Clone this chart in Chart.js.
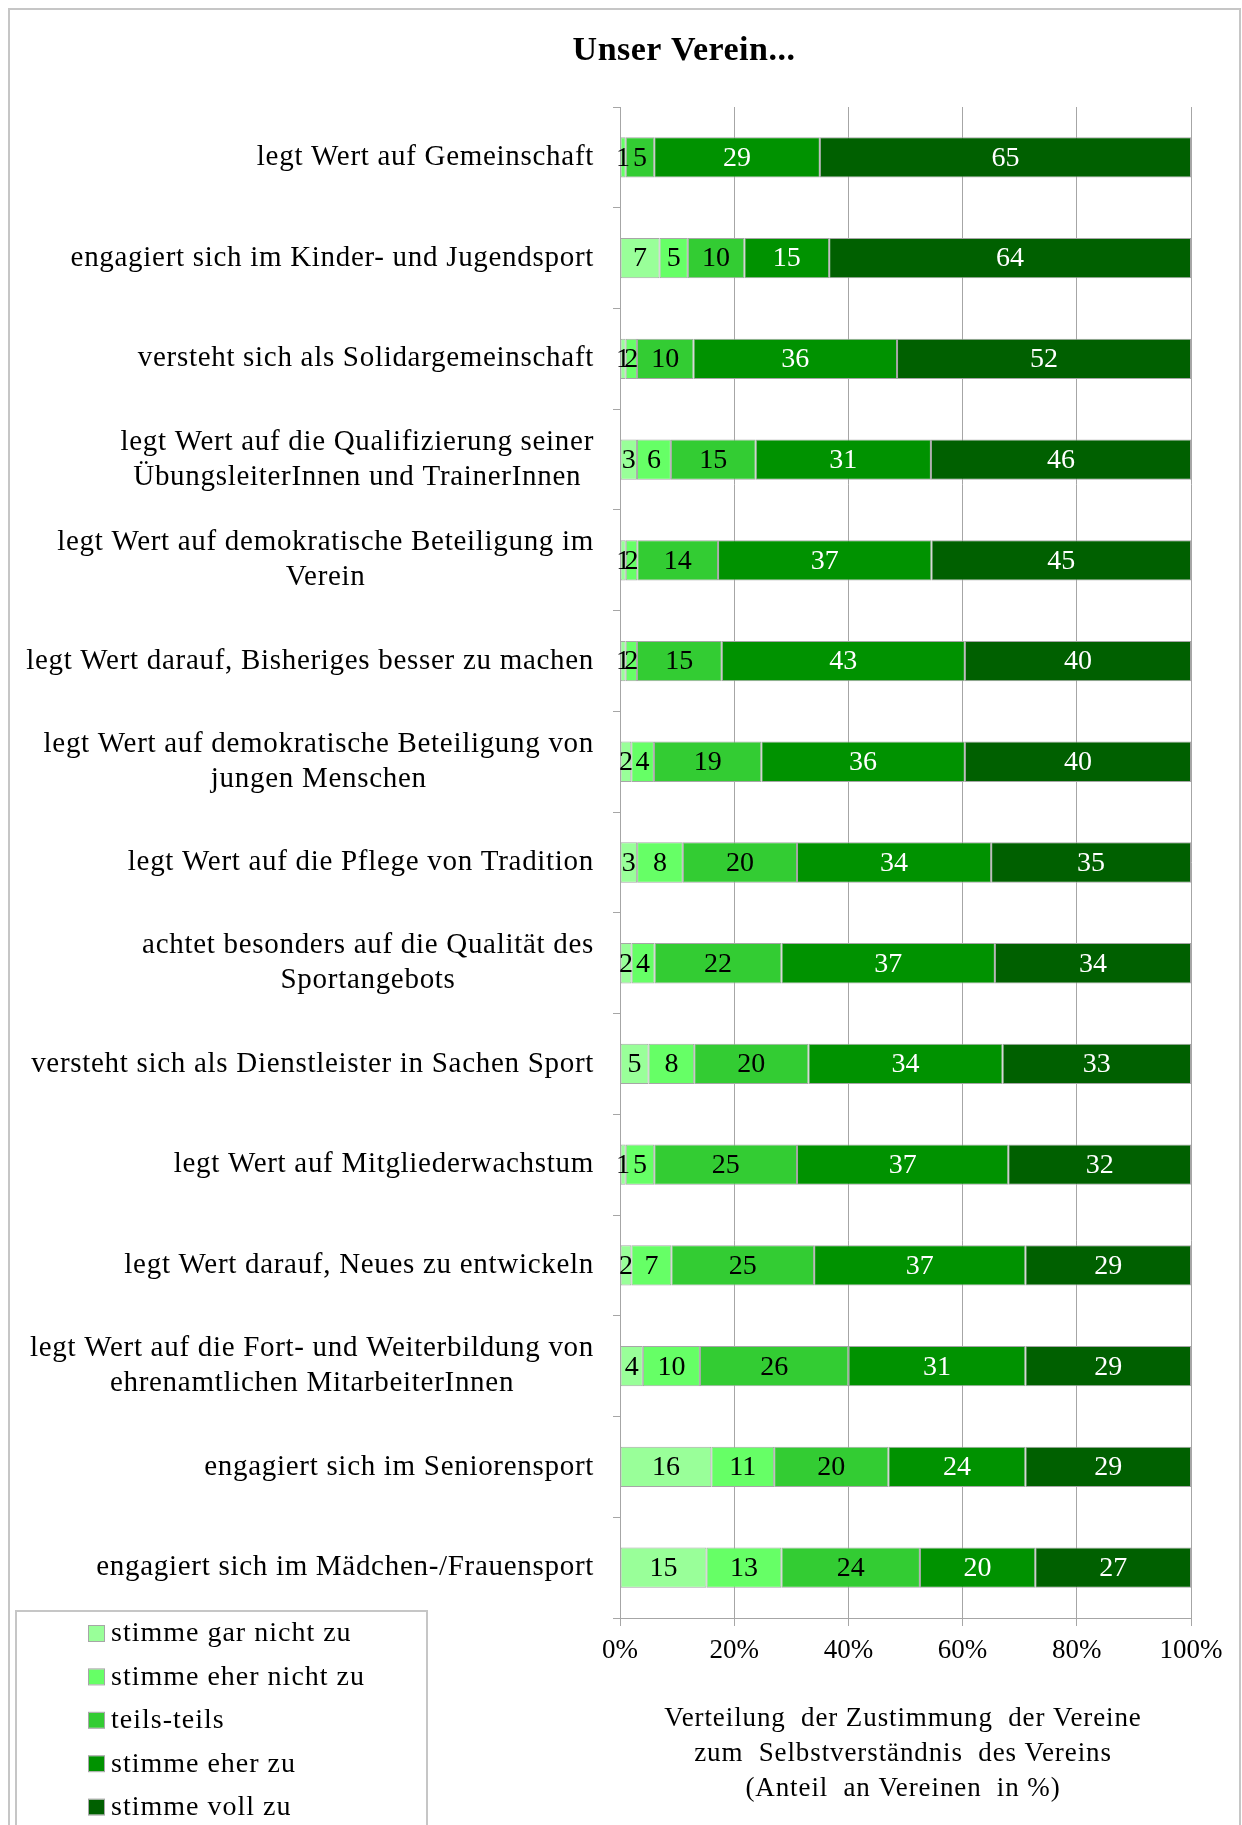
<!DOCTYPE html>
<html lang="de">
<head>
<meta charset="utf-8">
<title>Unser Verein...</title>
<script src="https://cdn.jsdelivr.net/npm/chart.js@4.4.1/dist/chart.umd.min.js"></script>
<style>
  html, body { margin: 0; padding: 0; background: #fff; }
  #wrap { position: relative; width: 1242px; height: 1825px; }
</style>
</head>
<body>
<div id="wrap"><canvas id="chart"></canvas></div>
<script>
// ═══════════════════════════════════════
// DATA
// ═══════════════════════════════════════
const categories = [
  ['legt Wert auf Gemeinschaft'],
  ['engagiert sich im Kinder- und Jugendsport'],
  ['versteht sich als Solidargemeinschaft'],
  ['legt Wert auf die Qualifizierung seiner', 'ÜbungsleiterInnen und TrainerInnen'],
  ['legt Wert auf demokratische Beteiligung im', 'Verein'],
  ['legt Wert darauf, Bisheriges besser zu machen'],
  ['legt Wert auf demokratische Beteiligung von', 'jungen Menschen'],
  ['legt Wert auf die Pflege von Tradition'],
  ['achtet besonders auf die Qualität des', 'Sportangebots'],
  ['versteht sich als Dienstleister in Sachen Sport'],
  ['legt Wert auf Mitgliederwachstum'],
  ['legt Wert darauf, Neues zu entwickeln'],
  ['legt Wert auf die Fort- und Weiterbildung von', 'ehrenamtlichen MitarbeiterInnen'],
  ['engagiert sich im Seniorensport'],
  ['engagiert sich im Mädchen-/Frauensport']
];

const seriesNames = ['stimme gar nicht zu', 'stimme eher nicht zu', 'teils-teils', 'stimme eher zu', 'stimme voll zu'];

const garNicht   = [0, 7, 1, 3, 1, 1, 2, 3, 2, 5, 1, 2, 4, 16, 15];
const eherNicht  = [1, 5, 2, 6, 2, 2, 4, 8, 4, 8, 5, 7, 10, 11, 13];
const teilsTeils = [5, 10, 10, 15, 14, 15, 19, 20, 22, 20, 25, 25, 26, 20, 24];
const eherZu     = [29, 15, 36, 31, 37, 43, 36, 34, 37, 34, 37, 37, 31, 24, 20];
const vollZu     = [65, 64, 52, 46, 45, 40, 40, 35, 34, 33, 32, 29, 29, 29, 27];

const xTicks = [0, 20, 40, 60, 80, 100];

const axisTitle = [
  'Verteilung  der Zustimmung  der Vereine',
  'zum  Selbstverständnis  des Vereins',
  '(Anteil  an Vereinen  in %)'
];

// ═══════════════════════════════════════
// STYLE
// ═══════════════════════════════════════
const colors = ['#99FF99', '#66FF66', '#33CC33', '#009200', '#006000'];
const labelColors = ['#000', '#000', '#000', '#fff', '#fff'];
const SERIF = '"Liberation Serif", "Times New Roman", serif';
const GRID = '#A6A6A6';

// 100% stacked: each row is scaled to its own total
const allSeries = [garNicht, eherNicht, teilsTeils, eherZu, vollZu];
const rowTotals = categories.map((_, i) => allSeries.reduce((s, arr) => s + arr[i], 0));

// ═══════════════════════════════════════
// PLUGINS
// ═══════════════════════════════════════
const decor = {
  id: 'decor',
  beforeDraw(chart) {
    const ctx = chart.ctx;
    ctx.save();
    ctx.fillStyle = '#fff';
    ctx.fillRect(0, 0, chart.width, chart.height);
    ctx.strokeStyle = '#C6C6C6';
    ctx.lineWidth = 2;
    ctx.strokeRect(9, 9, 1231, 1840);
    ctx.restore();
  },
  afterDatasetsDraw(chart) {
    const ctx = chart.ctx;
    ctx.save();
    ctx.font = '28px ' + SERIF;
    ctx.textAlign = 'center';
    ctx.textBaseline = 'middle';
    chart.data.datasets.forEach((ds, di) => {
      const meta = chart.getDatasetMeta(di);
      meta.data.forEach((bar, i) => {
        const v = ds.raw[i];
        if (!v) return;
        ctx.fillStyle = labelColors[di];
        ctx.fillText(String(v), (bar.x + bar.base) / 2, bar.y + 1);
      });
    });
    ctx.restore();
  },
  afterDraw(chart) {
    const ctx = chart.ctx;
    const yScale = chart.scales.y;
    ctx.save();

    // Title
    ctx.fillStyle = '#000';
    ctx.font = 'bold 34px ' + SERIF;
    ctx.letterSpacing = '0.5px';
    ctx.textAlign = 'center';
    ctx.textBaseline = 'middle';
    ctx.fillText('Unser Verein...', 684, 51);

    // Category labels: right-aligned blocks, lines centred inside
    ctx.font = '29px ' + SERIF;
    ctx.letterSpacing = '0.7px';
    categories.forEach((lines, i) => {
      const y = yScale.getPixelForTick(i);
      const maxW = Math.max(...lines.map(l => ctx.measureText(l).width));
      const cx = 594 - maxW / 2;
      const lh = 35;
      lines.forEach((l, k) => {
        ctx.fillText(l, cx, y + (k - (lines.length - 1) / 2) * lh);
      });
    });

    // Axis title
    ctx.font = '27px ' + SERIF;
    ctx.letterSpacing = '0.9px';
    axisTitle.forEach((l, k) => ctx.fillText(l, 903, 1719 + k * 35));

    // Legend box
    ctx.strokeStyle = '#C6C6C6';
    ctx.lineWidth = 2;
    ctx.strokeRect(16, 1611, 411, 260);
    ctx.font = '28px ' + SERIF;
    ctx.letterSpacing = '1px';
    ctx.textAlign = 'left';
    seriesNames.forEach((name, k) => {
      const y = 1634 + k * 43.4;
      ctx.fillStyle = colors[k];
      ctx.fillRect(89, y - 8, 15, 15);
      ctx.strokeStyle = '#A6A6A6';
      ctx.lineWidth = 1;
      ctx.strokeRect(88.5, y - 8.5, 16, 16);
      ctx.fillStyle = '#000';
      ctx.fillText(name, 111, y);
    });
    ctx.restore();
  }
};

// ═══════════════════════════════════════
// CHART
// ═══════════════════════════════════════
function buildDatasets() {
  return allSeries.map((arr, k) => ({
    label: seriesNames[k],
    raw: arr,
    data: arr.map((v, i) => v / rowTotals[i] * 100),
    backgroundColor: colors[k],
    borderColor: GRID,
    borderWidth: 1,
    borderSkipped: false,
    barPercentage: 0.4,
    categoryPercentage: 1
  }));
}

new Chart(document.getElementById('chart'), {
  type: 'bar',
  data: {
    labels: categories.map(c => c.join(' ')),
    datasets: buildDatasets()
  },
  options: {
    indexAxis: 'y',
    responsive: true,
    maintainAspectRatio: false,
    animation: false,
    devicePixelRatio: 1,
    layout: { padding: { top: 107, right: 51, bottom: 0, left: 0 } },
    plugins: {
      legend: { display: false },
      title: { display: false },
      tooltip: { enabled: false }
    },
    scales: {
      x: {
        stacked: true,
        min: 0,
        max: 100,
        afterBuildTicks: s => { s.ticks = xTicks.map(v => ({ value: v })); },
        afterFit: s => { s.height = 207; },
        grid: { color: GRID, lineWidth: 1, tickLength: 8 },
        border: { color: GRID, width: 1 },
        ticks: {
          color: '#000',
          font: { family: SERIF, size: 27 },
          padding: 9,
          callback: v => v + '%'
        }
      },
      y: {
        stacked: true,
        afterFit: s => { s.width = 620; },
        grid: { drawOnChartArea: false, color: GRID, tickLength: 7, offset: true },
        border: { color: GRID, width: 1 },
        ticks: { display: false }
      }
    }
  },
  plugins: [decor]
});
</script>
</body>
</html>
